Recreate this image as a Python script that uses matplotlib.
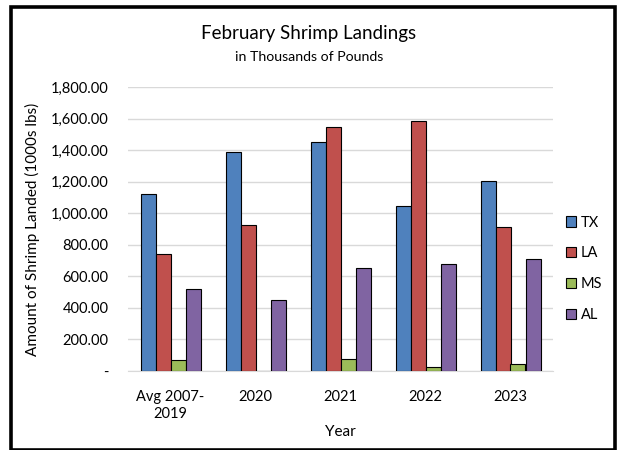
import numpy as np
import matplotlib.pyplot as plt
from matplotlib.patches import Rectangle
from matplotlib.ticker import FuncFormatter

plt.rcParams['font.family'] = ['Lato', 'DejaVu Sans']

# February landings by state, thousands of pounds
years = ["Avg 2007-\n2019", "2020", "2021", "2022", "2023"]
tx = [1123, 1387, 1453, 1045, 1207]
la = [741, 923, 1549, 1585, 912]
ms = [68, 2, 76, 23, 44]
al = [519, 451, 652, 681, 713]

states = ["TX", "LA", "MS", "AL"]
colors = ["#4F81BD", "#C0504D", "#9BBB59", "#8064A2"]

fig = plt.figure(figsize=(6.18, 4.5), dpi=100)
ax = fig.add_axes([128 / 618, 79 / 450, 425 / 618, 284 / 450])

x = np.arange(len(years))
w = 15 / 85
for i, (vals, c, name) in enumerate(zip([tx, la, ms, al], colors, states)):
    ax.bar(x + (i - 1.5) * w, vals, w, color=c, edgecolor="black",
           linewidth=0.8, label=name, zorder=3)

ax.set_xlim(-0.5, 4.5)
ax.set_ylim(0, 1800)
ax.set_yticks(np.arange(0, 1801, 200))
ax.yaxis.set_major_formatter(FuncFormatter(lambda v, p: "-" if v == 0 else f"{v:,.2f}"))
ax.set_xticks(x)
ax.set_xticklabels(years)
ax.grid(axis="y", color="#D9D9D9", linewidth=1, zorder=0)
for s in ["top", "right", "left"]:
    ax.spines[s].set_visible(False)
ax.spines["bottom"].set_color("#D9D9D9")
ax.tick_params(length=0, labelsize=10.5, colors="black")
ax.tick_params(axis="y", pad=14)
ax.tick_params(axis="x", pad=14)

ax.set_ylabel("Amount of Shrimp Landed (1000s lbs)", fontsize=11, labelpad=8)
ax.set_xlabel("Year", fontsize=11, labelpad=3)

fig.text(0.5, 1 - 33 / 450, "February Shrimp Landings", ha="center", va="center", fontsize=13.5)
fig.text(0.5, 1 - 57 / 450, "in Thousands of Pounds", ha="center", va="center", fontsize=10.2)

ax.legend(loc="center left", bbox_to_anchor=(1.0, 0.36), frameon=False,
          fontsize=10.5, handlelength=0.7, handleheight=0.7, handletextpad=0.3,
          labelspacing=1.15)

# black frame around the whole chart
fig.add_artist(Rectangle((10.5 / 618, 0.5 / 450), 604 / 618, 442.5 / 450,
                         transform=fig.transFigure, fill=False,
                         edgecolor="black", linewidth=2.6))

fig.savefig("out.png", dpi=100)
